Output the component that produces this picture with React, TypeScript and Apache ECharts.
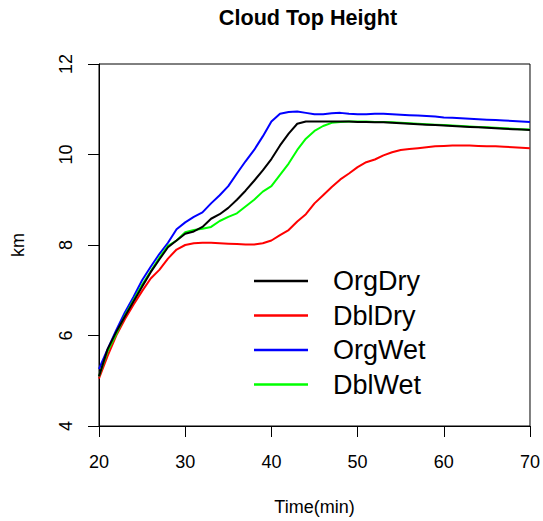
import React, { useEffect, useRef } from "react";
import * as echarts from "echarts";

const times: number[] = [];
for (let t = 20; t <= 70; t++) times.push(t);

const orgDry = [
  5.1, 5.7, 6.08, 6.42, 6.75, 7.08, 7.4, 7.68, 7.95, 8.1,
  8.25, 8.3, 8.4, 8.58, 8.68, 8.82, 9.0, 9.2, 9.42, 9.65,
  9.9, 10.2, 10.46, 10.68, 10.73, 10.73, 10.73, 10.73, 10.73, 10.73,
  10.72, 10.72, 10.71, 10.71, 10.7, 10.69, 10.68, 10.67, 10.66, 10.65,
  10.64, 10.63, 10.62, 10.61, 10.6, 10.59, 10.58, 10.57, 10.56, 10.55,
  10.54,
];
const dblDry = [
  5.05, 5.55, 6.0, 6.36, 6.68, 6.98, 7.26, 7.45, 7.7, 7.9,
  8.0, 8.04, 8.05, 8.05, 8.04, 8.03, 8.02, 8.01, 8.01, 8.04,
  8.1, 8.22, 8.33, 8.52, 8.68, 8.92, 9.1, 9.28, 9.45, 9.58,
  9.72, 9.83, 9.89, 9.98, 10.05, 10.1, 10.12, 10.14, 10.16, 10.18,
  10.19, 10.2, 10.2, 10.2, 10.19, 10.18, 10.18, 10.17, 10.16, 10.15,
  10.14,
];
const orgWet = [
  5.26, 5.7, 6.12, 6.51, 6.85, 7.22, 7.52, 7.8, 8.05, 8.35,
  8.5, 8.62, 8.72, 8.92, 9.1, 9.3, 9.58, 9.85, 10.1, 10.4,
  10.73, 10.9, 10.94, 10.95, 10.92, 10.89, 10.89, 10.91, 10.92, 10.9,
  10.89, 10.89, 10.9, 10.9, 10.89, 10.88, 10.87, 10.86, 10.85, 10.84,
  10.82, 10.81, 10.8, 10.79, 10.78, 10.77, 10.76, 10.75, 10.74, 10.73,
  10.72,
];
const dblWet = [
  5.1, 5.65, 6.03, 6.44, 6.78, 7.12, 7.42, 7.72, 7.98, 8.1,
  8.28, 8.33, 8.36, 8.4, 8.53, 8.62, 8.7, 8.85, 9.0, 9.18,
  9.3, 9.55, 9.8, 10.1, 10.35, 10.52, 10.63, 10.7, 10.72, 10.73,
  10.73, 10.73, 10.72, 10.72, 10.71, 10.7, 10.69, 10.68, 10.67, 10.66,
  10.65, 10.64, 10.63, 10.62, 10.61, 10.6, 10.59, 10.58, 10.57, 10.56,
  10.55,
];

const seriesNames = ["OrgDry", "DblDry", "OrgWet", "DblWet"];
const seriesColors = ["#000000", "#ff0000", "#0000ff", "#00ff00"];
const seriesData = [orgDry, dblDry, orgWet, dblWet];

const FONT = "'Liberation Sans', Arial, Helvetica, sans-serif";

export default function App() {
  const ref = useRef<HTMLDivElement>(null);
  useEffect(() => {
    if (!ref.current) return;
    const chart = echarts.init(ref.current, null, { renderer: "svg" });
    chart.setOption({
      animation: false,
      backgroundColor: "#ffffff",
      textStyle: { fontFamily: FONT },
      title: {
        text: "Cloud Top Height",
        left: 303,
        top: 1.5,
        textAlign: "center",
        textStyle: { fontFamily: FONT, fontSize: 21.6, fontWeight: "bold", color: "#000" },
      },
      grid: {
        left: 99,
        top: 64,
        right: 11,
        bottom: 94,
        show: true,
        borderColor: "#000",
        borderWidth: 1,
        backgroundColor: "transparent",
      },
      legend: {
        orient: "vertical",
        left: 254,
        top: 266,
        padding: 0,
        icon: "rect",
        itemWidth: 54,
        itemHeight: 2.5,
        itemGap: 4.5,
        data: seriesNames,
        textStyle: {
          fontFamily: FONT,
          fontSize: 27,
          lineHeight: 30,
          color: "#000",
          padding: [0, 0, 0, 20],
        },
      },
      xAxis: {
        type: "value",
        min: 20,
        max: 70,
        interval: 10,
        name: "Time(min)",
        nameLocation: "middle",
        nameGap: 72,
        nameTextStyle: { fontFamily: FONT, fontSize: 18, color: "#000" },
        axisLine: { show: true, onZero: false, lineStyle: { color: "#000", width: 1 } },
        axisTick: { show: true, inside: false, length: 11, lineStyle: { color: "#000" } },
        axisLabel: { fontFamily: FONT, fontSize: 18, color: "#000", margin: 27 },
        splitLine: { show: false },
      },
      yAxis: {
        type: "value",
        min: 4,
        max: 12,
        interval: 2,
        name: "km",
        nameLocation: "middle",
        nameGap: 72,
        nameRotate: 90,
        nameTextStyle: { fontFamily: FONT, fontSize: 18, color: "#000" },
        axisLine: { show: true, onZero: false, lineStyle: { color: "#000", width: 1 } },
        axisTick: { show: true, inside: false, length: 11, lineStyle: { color: "#000" } },
        axisLabel: { fontFamily: FONT, fontSize: 18, color: "#000", margin: 24, rotate: 90 },
        splitLine: { show: false },
      },
      series: seriesNames.map((name, i) => ({
        name,
        type: "line",
        data: times.map((t, j) => [t, seriesData[i][j]]),
        showSymbol: false,
        symbol: "none",
        lineStyle: { color: seriesColors[i], width: 2 },
        itemStyle: { color: seriesColors[i] },
        z: 2 + (i === 0 ? 1 : 0),
      })),
    });
    return () => chart.dispose();
  }, []);
  return (
    <div
      ref={ref}
      style={{ position: "fixed", left: 0, top: 0, width: 543, height: 521 }}
    />
  );
}
